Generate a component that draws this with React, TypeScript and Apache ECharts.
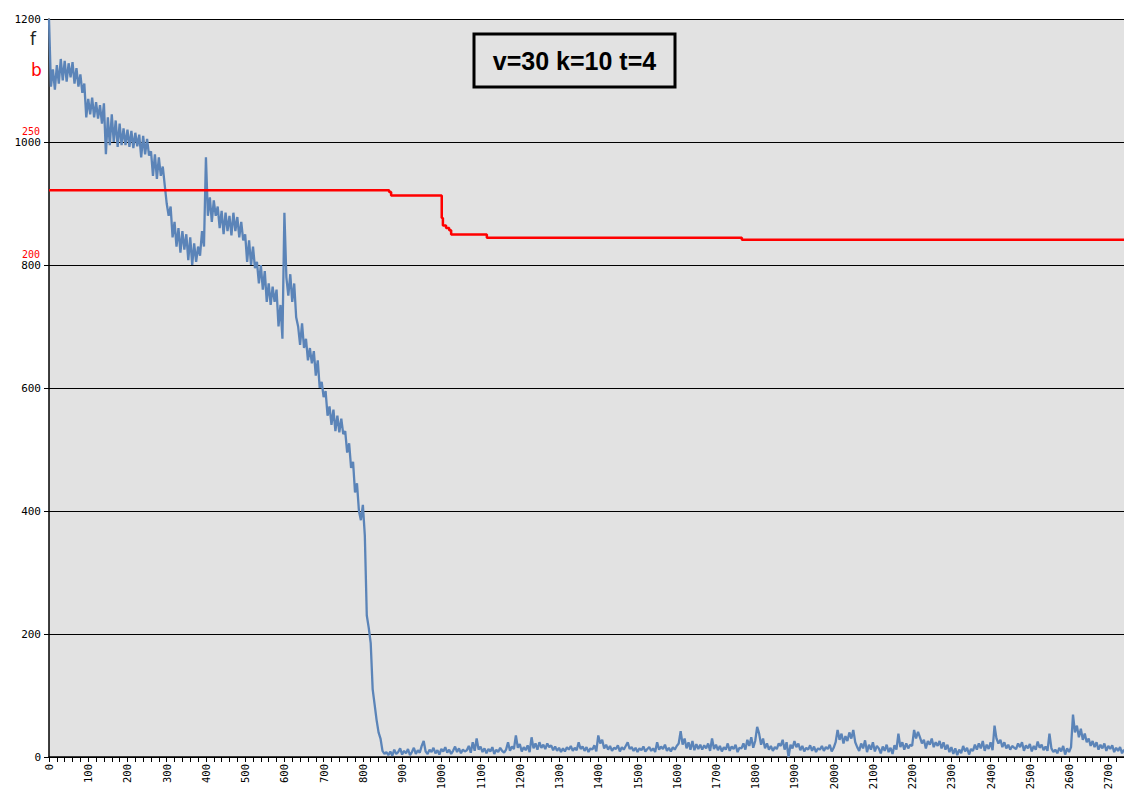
import React, { useEffect, useRef } from "react";
import * as echarts from "echarts";

// f series: sampled every 5 units of x, starting at 0
const F_STEP = 5;
const fValues: number[] = [
  // 0 - 95
  1200, 1090, 1118, 1085, 1125, 1095, 1135, 1100, 1132, 1098, 1128, 1105, 1130, 1095, 1120, 1090, 1110, 1080, 1095, 1040,
  // 100 - 195
  1070, 1045, 1072, 1040, 1065, 1038, 1060, 1030, 1063, 980, 1040, 995, 1045, 1000, 1035, 992, 1030, 995, 1022, 995,
  // 200 - 295
  1020, 992, 1018, 990, 1015, 993, 1012, 975, 1010, 980, 1005, 978, 985, 945, 980, 940, 975, 945, 960, 930,
  // 300 - 395
  900, 880, 895, 845, 870, 830, 860, 820, 855, 825, 850, 808, 845, 800, 835, 805, 830, 815, 855, 830,
  // 400 - 495
  975, 880, 910, 870, 905, 880, 895, 860, 888, 850, 885, 855, 880, 848, 885, 855, 878, 845, 870, 840,
  // 500 - 595
  850, 805, 840, 800, 830, 795, 805, 770, 800, 760, 790, 740, 770, 735, 765, 740, 760, 700, 735, 680,
  // 600 - 695
  885, 780, 750, 785, 740, 770, 715, 700, 670, 705, 665, 680, 645, 665, 640, 660, 620, 645, 600, 610,
  // 700 - 795
  585, 595, 555, 570, 540, 565, 530, 555, 528, 550, 525, 530, 495, 510, 470, 480, 430, 445, 400, 385,
  // 800 - 860
  410, 360, 230, 210, 185, 110, 85, 60, 40, 30, 10, 5, 8,
  // 865 - 960
  3, 9, 2, 12, 5, 8, 14, 4, 10, 6, 13, 3, 8, 15, 5, 11, 7, 18, 26, 9,
  // 965 - 1060
  5, 12, 8, 15, 6, 11, 4, 13, 9, 16, 7, 12, 5, 10, 17, 8, 14, 6, 12, 9,
  // 1065 - 1160
  11, 18, 7, 24, 10, 30, 12, 17, 8, 14, 6, 13, 9, 16, 5, 12, 8, 15, 10, 7,
  // 1165 - 1260
  12, 24, 10, 17, 13, 35, 15, 21, 9, 16, 11, 19, 8, 32, 14, 22, 12, 24, 15, 20,
  // 1265 - 1360
  13, 22, 16, 19, 11, 17, 10, 15, 8, 14, 9, 16, 12, 18, 10, 15, 11, 24, 13, 17,
  // 1365 - 1460
  10, 16, 8, 14, 12, 19, 9, 35, 22, 28, 14, 20, 12, 18, 10, 15, 13, 19, 9, 16,
  // 1465 - 1560
  12, 18, 24, 13, 16, 10, 15, 8, 14, 11, 17, 9, 13, 16, 10, 14, 8, 24, 12, 17,
  // 1565 - 1660
  13, 20, 10, 15, 9, 16, 12, 18, 22, 42, 20, 30, 14, 24, 12, 26, 11, 21, 13, 20,
  // 1665 - 1760
  12, 19, 14, 22, 10, 30, 13, 20, 11, 18, 9, 16, 12, 22, 10, 17, 13, 20, 8, 15,
  // 1765 - 1860
  14, 22, 12, 28, 18, 32, 15, 26, 49, 38, 20, 30, 14, 22, 12, 18, 10, 16, 13, 22,
  // 1865 - 1960
  18, 28, 12, 24, 0, 20, 14, 26, 16, 22, 11, 18, 9, 15, 12, 19, 10, 17, 8, 14,
  // 1965 - 2060
  12, 18, 10, 16, 13, 20, 9, 15, 24, 44, 28, 38, 22, 34, 26, 40, 30, 44, 24, 16,
  // 2065 - 2160
  10, 22, 14, 27, 8, 20, 12, 24, 9, 18, 14, 6, 17, 10, 20, 8, 15, 5, 19, 12,
  // 2165 - 2260
  38, 16, 24, 12, 22, 14, 20, 18, 44, 30, 41, 32, 22, 28, 14, 26, 20, 30, 16, 24,
  // 2265 - 2360
  18, 26, 14, 24, 12, 20, 8, 16, 5, 14, 3, 12, 6, 18, 9, 15, 4, 13, 10, 20,
  // 2365 - 2460
  12, 22, 14, 26, 10, 20, 13, 24, 11, 51, 30, 22, 28, 16, 24, 14, 20, 12, 18, 15,
  // 2465 - 2560
  13, 22, 16, 24, 10, 19, 14, 21, 9, 18, 12, 25, 15, 20, 11, 17, 10, 38, 14, 8,
  // 2565 - 2660
  12, 6, 15, 9, 18, 4, 14, 8, 16, 69, 40, 51, 32, 46, 28, 38, 24, 30, 18, 26,
  // 2665 - 2740
  16, 24, 12, 20, 14, 22, 10, 18, 13, 19, 8, 15, 10, 16, 6, 12,
];

// b series: step values (start x, value)
const bX: number[] = [0, 867, 872, 1001, 1004, 1012, 1020, 1025, 1116, 1766, 2740];
const bY: number[] = [230.4, 229.7, 228.3, 219.1, 216.1, 215.0, 214.1, 212.4, 211.1, 210.3, 210.3];

const X_MAX = 2740;
const X_INTERVAL = 100;
const F_MAX = 1200;
const F_INTERVAL = 200;
const B_MAX = 300;
const B_INTERVAL = 50;
const B_LABELS = [200, 250];
const TITLE = "v=30 k=10 t=4";

export default function App() {
  const ref = useRef<HTMLDivElement>(null);
  useEffect(() => {
    if (!ref.current) return;
    const chart = echarts.init(ref.current, null, { renderer: "svg" });
    const mono = "DejaVu Sans Mono";
    chart.setOption({
      animation: false,
      backgroundColor: "#ffffff",
      grid: {
        left: 49,
        top: 19,
        right: 0,
        bottom: 36,
        show: true,
        backgroundColor: "#e2e2e2",
        borderWidth: 0,
      },
      xAxis: {
        type: "value",
        min: 0,
        max: X_MAX,
        interval: X_INTERVAL,
        axisLine: { show: true, onZero: false, lineStyle: { color: "#000", width: 1.5 } },
        axisTick: { show: true, length: 5, lineStyle: { color: "#000" } },
        minorTick: { show: true, splitNumber: 5, length: 5, lineStyle: { color: "#000" } },
        splitLine: { show: false },
        axisLabel: {
          rotate: 90,
          margin: 7,
          fontFamily: mono,
          fontSize: 10.5,
          color: "#000",
          showMaxLabel: false,
          formatter: (v: number) => String(v),
        },
      },
      yAxis: [
        {
          type: "value",
          min: 0,
          max: F_MAX,
          interval: F_INTERVAL,
          position: "left",
          axisLine: { show: true, lineStyle: { color: "#000", width: 1.5 } },
          axisTick: { show: true, length: 5, lineStyle: { color: "#000" } },
          splitLine: { show: true, lineStyle: { color: "#000", width: 1 } },
          axisLabel: {
            fontFamily: mono,
            fontSize: 11,
            color: "#000",
            margin: 8,
            formatter: (v: number) => String(v),
          },
        },
        {
          type: "value",
          min: 0,
          max: B_MAX,
          interval: B_INTERVAL,
          position: "left",
          axisLine: { show: false },
          axisTick: { show: false },
          splitLine: { show: false },
          axisLabel: {
            fontFamily: mono,
            fontSize: 10,
            color: "#ff0000",
            margin: 9,
            verticalAlign: "bottom",
            padding: [0, 0, 6, 0],
            formatter: (v: number) => (B_LABELS.includes(v) ? String(v) : ""),
          },
        },
      ],
      graphic: [
        {
          type: "text",
          left: 30,
          top: 30,
          style: { text: "f", fontSize: 17, fontFamily: "DejaVu Sans", fill: "#222" },
        },
        {
          type: "text",
          left: 31,
          top: 61,
          style: { text: "b", fontSize: 17, fontFamily: "DejaVu Sans", fill: "#ff0000" },
        },
        {
          type: "rect",
          shape: { x: 474, y: 34, width: 201, height: 53 },
          style: { fill: "#e2e2e2", stroke: "#000", lineWidth: 3 },
          z: 10,
        },
        {
          type: "text",
          x: 574.5,
          y: 61,
          style: {
            text: TITLE,
            fontSize: 25,
            fontWeight: "bold",
            fontFamily: "Liberation Sans",
            fill: "#000",
            align: "center",
            verticalAlign: "middle",
          },
          z: 11,
        },
      ],
      series: [
        {
          type: "line",
          name: "f",
          yAxisIndex: 0,
          showSymbol: false,
          symbol: "none",
          data: fValues.map((v, i) => [i * F_STEP, v]),
          lineStyle: { color: "#5b84b8", width: 2.3 },
          z: 3,
        },
        {
          type: "line",
          name: "b",
          yAxisIndex: 1,
          step: "end",
          showSymbol: false,
          symbol: "none",
          data: bX.map((x, i) => [x, bY[i]]),
          lineStyle: { color: "#ff0000", width: 2.5 },
          z: 4,
        },
      ],
    });
    return () => chart.dispose();
  }, []);
  return (
    <div
      ref={ref}
      style={{ position: "fixed", left: 0, top: 0, width: 1124, height: 793 }}
    />
  );
}
